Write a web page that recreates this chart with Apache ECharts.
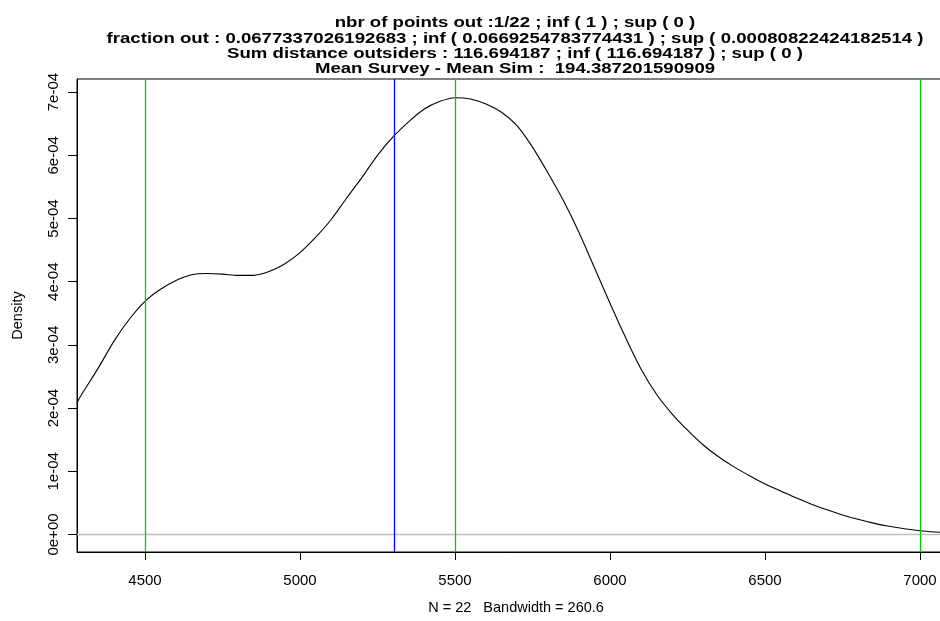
<!DOCTYPE html>
<html>
<head>
<meta charset="utf-8">
<script src="https://cdn.jsdelivr.net/npm/echarts@6/dist/echarts.min.js"></script>
<style>
html,body{margin:0;padding:0;background:#fff;}
#chart{width:940px;height:621px;}
</style>
</head>
<body>
<div id="chart"></div>
<script>
// ---- data ----
const titleLines = [
  "nbr of points out :1/22 ; inf ( 1 ) ; sup ( 0 )",
  "fraction out : 0.0677337026192683 ; inf ( 0.0669254783774431 ) ; sup ( 0.00080822424182514 )",
  "Sum distance outsiders : 116.694187 ; inf ( 116.694187 ) ; sup ( 0 )",
  "Mean Survey - Mean Sim :  194.387201590909"
];
const xAxisTitle = "N = 22   Bandwidth = 260.6";
const yAxisTitle = "Density";
const densityX = [4280.65, 4300, 4350, 4400, 4450, 4500, 4550, 4600, 4650, 4700, 4750, 4800, 4850, 4900, 4950, 5000, 5050, 5100, 5150, 5200, 5250, 5300, 5350, 5400, 5450, 5500, 5550, 5600, 5650, 5700, 5750, 5800, 5850, 5900, 5950, 6000, 6050, 6100, 6150, 6200, 6250, 6300, 6350, 6400, 6450, 6500, 6550, 6600, 6650, 6700, 6750, 6800, 6850, 6900, 6950, 7000, 7050, 7112];
const densityY = [2.09e-4, 2.25e-4, 2.64e-4, 3.06e-4, 3.41e-4, 3.69e-4, 3.88e-4, 4.02e-4, 4.11e-4, 4.13e-4, 4.12e-4, 4.10e-4, 4.10e-4, 4.16e-4, 4.28e-4, 4.46e-4, 4.70e-4, 4.98e-4, 5.32e-4, 5.65e-4, 6.00e-4, 6.29e-4, 6.53e-4, 6.73e-4, 6.85e-4, 6.91e-4, 6.89e-4, 6.81e-4, 6.68e-4, 6.47e-4, 6.13e-4, 5.72e-4, 5.28e-4, 4.78e-4, 4.22e-4, 3.66e-4, 3.12e-4, 2.62e-4, 2.22e-4, 1.91e-4, 1.65e-4, 1.42e-4, 1.23e-4, 1.07e-4, 0.93e-4, 0.80e-4, 0.69e-4, 0.58e-4, 0.48e-4, 0.39e-4, 0.31e-4, 0.24e-4, 0.18e-4, 0.13e-4, 0.09e-4, 0.06e-4, 0.04e-4, 0.02e-4];
const greenLines = [4500, 5500, 7000];
const blueLines = [5305.6];
const grayHLines = [0];
const xTickValues = [4500, 5000, 5500, 6000, 6500, 7000];
const xTickLabels = ["4500", "5000", "5500", "6000", "6500", "7000"];
const yTickValues = [0, 0.0001, 0.0002, 0.0003, 0.0004, 0.0005, 0.0006, 0.0007];
const yTickLabels = ["0e+00", "1e-04", "2e-04", "3e-04", "4e-04", "5e-04", "6e-04", "7e-04"];
const xRange = [4280.65, 7112.91];
const yRange = [-0.00002769, 0.00072073];

// ---- chart ----
function labelFor(values, labels, v) {
  let best = 0, bd = Infinity;
  values.forEach((t, i) => { const d = Math.abs(t - v); if (d < bd) { bd = d; best = i; } });
  return labels[best];
}
const FONT = "'Liberation Sans', Arial, Helvetica, sans-serif";
const chart = echarts.init(document.getElementById('chart'), null, {renderer: 'canvas'});

function refLineSeries(name, color, items) {
  return {
    name: name, type: 'line', data: [], silent: true, showSymbol: false,
    markLine: {silent: true, symbol: 'none', animation: false, label: {show: false},
      lineStyle: {color: color, width: 1.3, type: 'solid', opacity: 1}, emphasis: {disabled: true},
      data: items}
  };
}

const titleTop = 23, titleStep = 15.3;
const option = {
  animation: false,
  backgroundColor: '#ffffff',
  grid: {left: 77, right: -15, top: 79, bottom: 69, show: true, borderColor: '#000', borderWidth: 1, backgroundColor: 'transparent', outerBoundsMode: 'none', containLabel: false},
  graphic: titleLines.map((t, i) => ({
    type: 'text', x: 515, y: titleTop + i * titleStep, scaleX: 1.2, scaleY: 1, silent: true,
    style: {text: t, textAlign: 'center', textVerticalAlign: 'middle', fill: '#000', font: "bold 15.5px " + FONT}
  })),
  xAxis: {
    type: 'value', min: xRange[0], max: xRange[1],
    name: xAxisTitle, nameLocation: 'middle', nameGap: 48,
    nameTextStyle: {color: '#000', fontSize: 14.5, fontFamily: FONT},
    axisLine: {show: true, onZero: false, lineStyle: {color: '#000', width: 1}},
    axisTick: {show: true, length: 8, lineStyle: {color: '#000'}, customValues: xTickValues},
    axisLabel: {show: true, color: '#000', fontSize: 15, fontFamily: FONT, margin: 21, customValues: xTickValues,
      formatter: v => labelFor(xTickValues, xTickLabels, v)},
    splitLine: {show: false}
  },
  yAxis: {
    type: 'value', min: yRange[0], max: yRange[1],
    name: yAxisTitle, nameLocation: 'middle', nameGap: 52, nameRotate: 90,
    nameTextStyle: {color: '#000', fontSize: 14.5, fontFamily: FONT},
    axisLine: {show: true, onZero: false, lineStyle: {color: '#000', width: 1}},
    axisTick: {show: true, length: 9, lineStyle: {color: '#000'}, customValues: yTickValues},
    axisLabel: {show: true, rotate: 90, color: '#000', fontSize: 15, fontFamily: FONT, margin: 16, customValues: yTickValues,
      formatter: v => labelFor(yTickValues, yTickLabels, v)},
    splitLine: {show: false}
  },
  series: [
    refLineSeries('zero', '#bebebe', grayHLines.map(v => ({yAxis: v}))),
    {
      name: 'density', type: 'line',
      data: densityX.map((x, i) => [x, densityY[i]]),
      smooth: 0.3, showSymbol: false, clip: true, silent: true,
      lineStyle: {color: '#000', width: 1.1}
    },
    refLineSeries('green', '#00cd00', greenLines.map(v => ({xAxis: v}))),
    refLineSeries('blue', '#0000ff', blueLines.map(v => ({xAxis: v})))
  ]
};
chart.setOption(option);
</script>
</body>
</html>
